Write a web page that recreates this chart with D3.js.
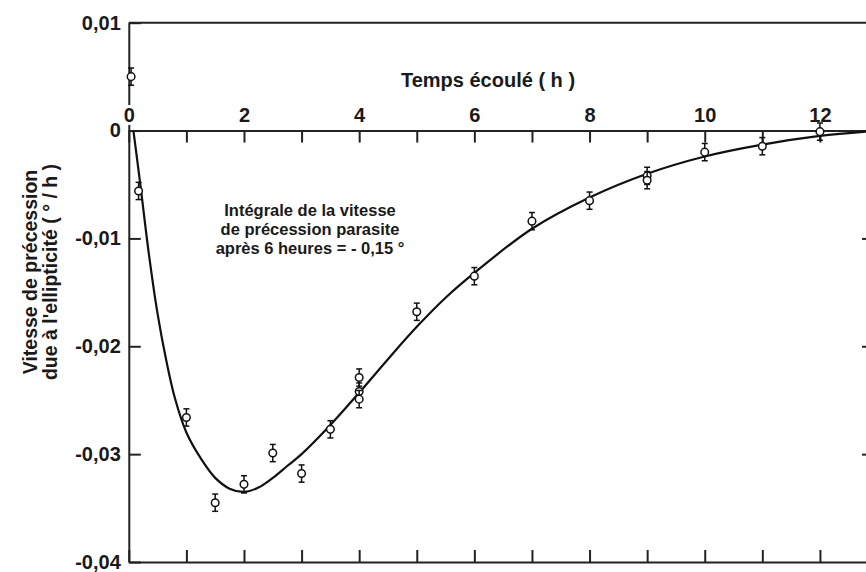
<!DOCTYPE html>
<html>
<head>
<meta charset="utf-8">
<script src="https://cdn.jsdelivr.net/npm/d3@7"></script>
<style>
  body { margin: 0; background: #fff; }
  svg { display: block; font-family: "Liberation Sans", Arial, sans-serif; }
  .axis text { font-weight: bold; fill: #1a1a1a; }
  .axis path, .axis line { stroke: #222; stroke-width: 2; }
  .top-axis text { stroke: #fff; stroke-width: 6; paint-order: stroke; stroke-linejoin: round; }
</style>
</head>
<body>
<div id="chart"></div>
<script>
// Data
const pointHours  = [0.04, 0.17, 1, 1.5, 2, 2.5, 3, 3.5, 4, 4, 4, 5, 6, 7, 8, 9, 9, 10, 11, 12];
const pointValues = [0.0050, -0.0056, -0.0266, -0.0345, -0.0328, -0.0299, -0.0318, -0.0277,
                     -0.0229, -0.0242, -0.0249, -0.0168, -0.0135, -0.0084, -0.0065, -0.0042,
                     -0.0046, -0.0020, -0.00145, -0.0001];
const pointErrors = [0.0008, 0.0008, 0.0008, 0.0008, 0.0008, 0.0008, 0.0008, 0.0008,
                     0.0008, 0.0008, 0.0008, 0.0008, 0.0008, 0.0008, 0.0008, 0.0008,
                     0.0008, 0.0008, 0.0008, 0.0008];

// fitted curve
const curveHours  = [0.08, 0.2, 0.35, 0.5, 0.65, 0.8, 1.0, 1.25, 1.5, 1.75, 2.0, 2.25, 2.5,
                     2.75, 3.0, 3.5, 4.0, 4.5, 5.0, 5.5, 6.0, 7.0, 8.0, 9.0, 10.0, 11.0, 12.0, 12.8];
const curveValues = [0, -0.0050, -0.0115, -0.0170, -0.0213, -0.0248, -0.0280, -0.0304, -0.0322,
                     -0.0332, -0.0335, -0.0331, -0.0322, -0.0311, -0.0300, -0.0273, -0.0243,
                     -0.0212, -0.0182, -0.0155, -0.0132, -0.0091, -0.0062, -0.0040, -0.0024,
                     -0.0013, -0.0005, -0.0001];

const hourTicks  = [0, 1, 2, 3, 4, 5, 6, 7, 8, 9, 10, 11, 12];
const valueTicks = [0.01, 0, -0.01, -0.02, -0.03, -0.04];

const xTitle = "Temps écoulé  ( h )";
const yTitle = ["Vitesse de précession", "due à l'ellipticité  ( ° / h )"];
const note   = ["Intégrale de la vitesse", "de précession parasite", "après 6 heures = - 0,15 °"];

const W = 866, H = 572;
const margin = { top: 22.7, right: 0, bottom: 10, left: 128.8 };
const width = W - margin.left - margin.right;
const height = H - margin.top - margin.bottom;

const svg = d3.select("#chart").append("svg")
    .attr("width", W)
    .attr("height", H);

const g = svg.append("g")
    .attr("transform", `translate(${margin.left},${margin.top})`);

const x = d3.scaleLinear().domain([0, 12.8]).range([0, width]);
const y = d3.scaleLinear().domain([0.01, -0.04]).range([0, height]);

const fmt = d => d === 0 ? "0" : d.toFixed(2).replace(".", ",");

// top border at 0.01
g.append("line")
    .attr("x1", 0).attr("x2", width)
    .attr("y1", y(0.01)).attr("y2", y(0.01))
    .attr("stroke", "#222").attr("stroke-width", 2);

// bottom axis (ticks only, pointing up)
g.append("g")
    .attr("class", "axis")
    .attr("transform", `translate(0,${y(-0.04)})`)
    .call(d3.axisTop(x).tickValues(hourTicks).tickSizeInner(12).tickSizeOuter(0).tickFormat(""));

// right side ticks (axis line falls outside the frame)
g.append("g")
    .attr("class", "axis")
    .attr("transform", `translate(${width + 3},0)`)
    .call(d3.axisRight(y).tickValues([-0.01, -0.02, -0.03]).tickSizeInner(-7).tickSizeOuter(0).tickFormat(""));

// left axis
g.append("g")
    .attr("class", "axis left-axis")
    .call(d3.axisLeft(y).tickValues(valueTicks).tickSizeInner(-12).tickSizeOuter(0)
        .tickPadding(8).tickFormat(fmt))
    .call(a => a.selectAll("text").style("font-size", "20px"));

// time axis on the zero line
g.append("g")
    .attr("class", "axis top-axis")
    .attr("transform", `translate(0,${y(0)})`)
    .call(d3.axisTop(x).tickValues(hourTicks).tickSizeInner(-12).tickSizeOuter(0)
        .tickPadding(9).tickFormat(d => d % 2 === 0 ? d : ""))
    .call(a => a.selectAll("text").style("font-size", "20px"));

// fitted curve
const line = d3.line()
    .x((d, i) => x(curveHours[i]))
    .y(d => y(d))
    .curve(d3.curveCatmullRom.alpha(0.5));

g.append("path")
    .datum(curveValues)
    .attr("fill", "none")
    .attr("stroke", "#111")
    .attr("stroke-width", 2.2)
    .attr("d", line);

// points with error bars
const pts = pointHours.map((h, i) => ({ h: h, v: pointValues[i], e: pointErrors[i] }));

const pg = g.selectAll(".pt")
    .data(pts)
    .enter().append("g")
    .attr("class", "pt");

pg.append("line")
    .attr("x1", d => x(d.h)).attr("x2", d => x(d.h))
    .attr("y1", d => y(d.v + d.e)).attr("y2", d => y(d.v - d.e))
    .attr("stroke", "#111").attr("stroke-width", 1.5);

[1, -1].forEach(s => {
    pg.append("line")
        .attr("x1", d => x(d.h) - 3).attr("x2", d => x(d.h) + 3)
        .attr("y1", d => y(d.v + s * d.e)).attr("y2", d => y(d.v + s * d.e))
        .attr("stroke", "#111").attr("stroke-width", 1.5);
});

pg.append("circle")
    .attr("cx", d => x(d.h))
    .attr("cy", d => y(d.v))
    .attr("r", 3.8)
    .attr("fill", "#fff")
    .attr("stroke", "#111")
    .attr("stroke-width", 1.5);

// x title
svg.append("text")
    .attr("x", 488)
    .attr("y", 87)
    .attr("text-anchor", "middle")
    .style("font-size", "20px")
    .style("font-weight", "bold")
    .attr("fill", "#1a1a1a")
    .text(xTitle);

// y title, two rotated lines
yTitle.forEach((t, i) => {
    svg.append("text")
        .attr("transform", `translate(${37 + i * 20},272) rotate(-90)`)
        .attr("text-anchor", "middle")
        .style("font-size", "19.5px")
        .style("font-weight", "bold")
        .attr("fill", "#1a1a1a")
        .text(t);
});

// annotation
note.forEach((t, i) => {
    svg.append("text")
        .attr("x", 310)
        .attr("y", 216 + i * 19)
        .attr("text-anchor", "middle")
        .style("font-size", "16.5px")
        .style("font-weight", "bold")
        .attr("fill", "#1a1a1a")
        .text(t);
});
</script>
</body>
</html>
